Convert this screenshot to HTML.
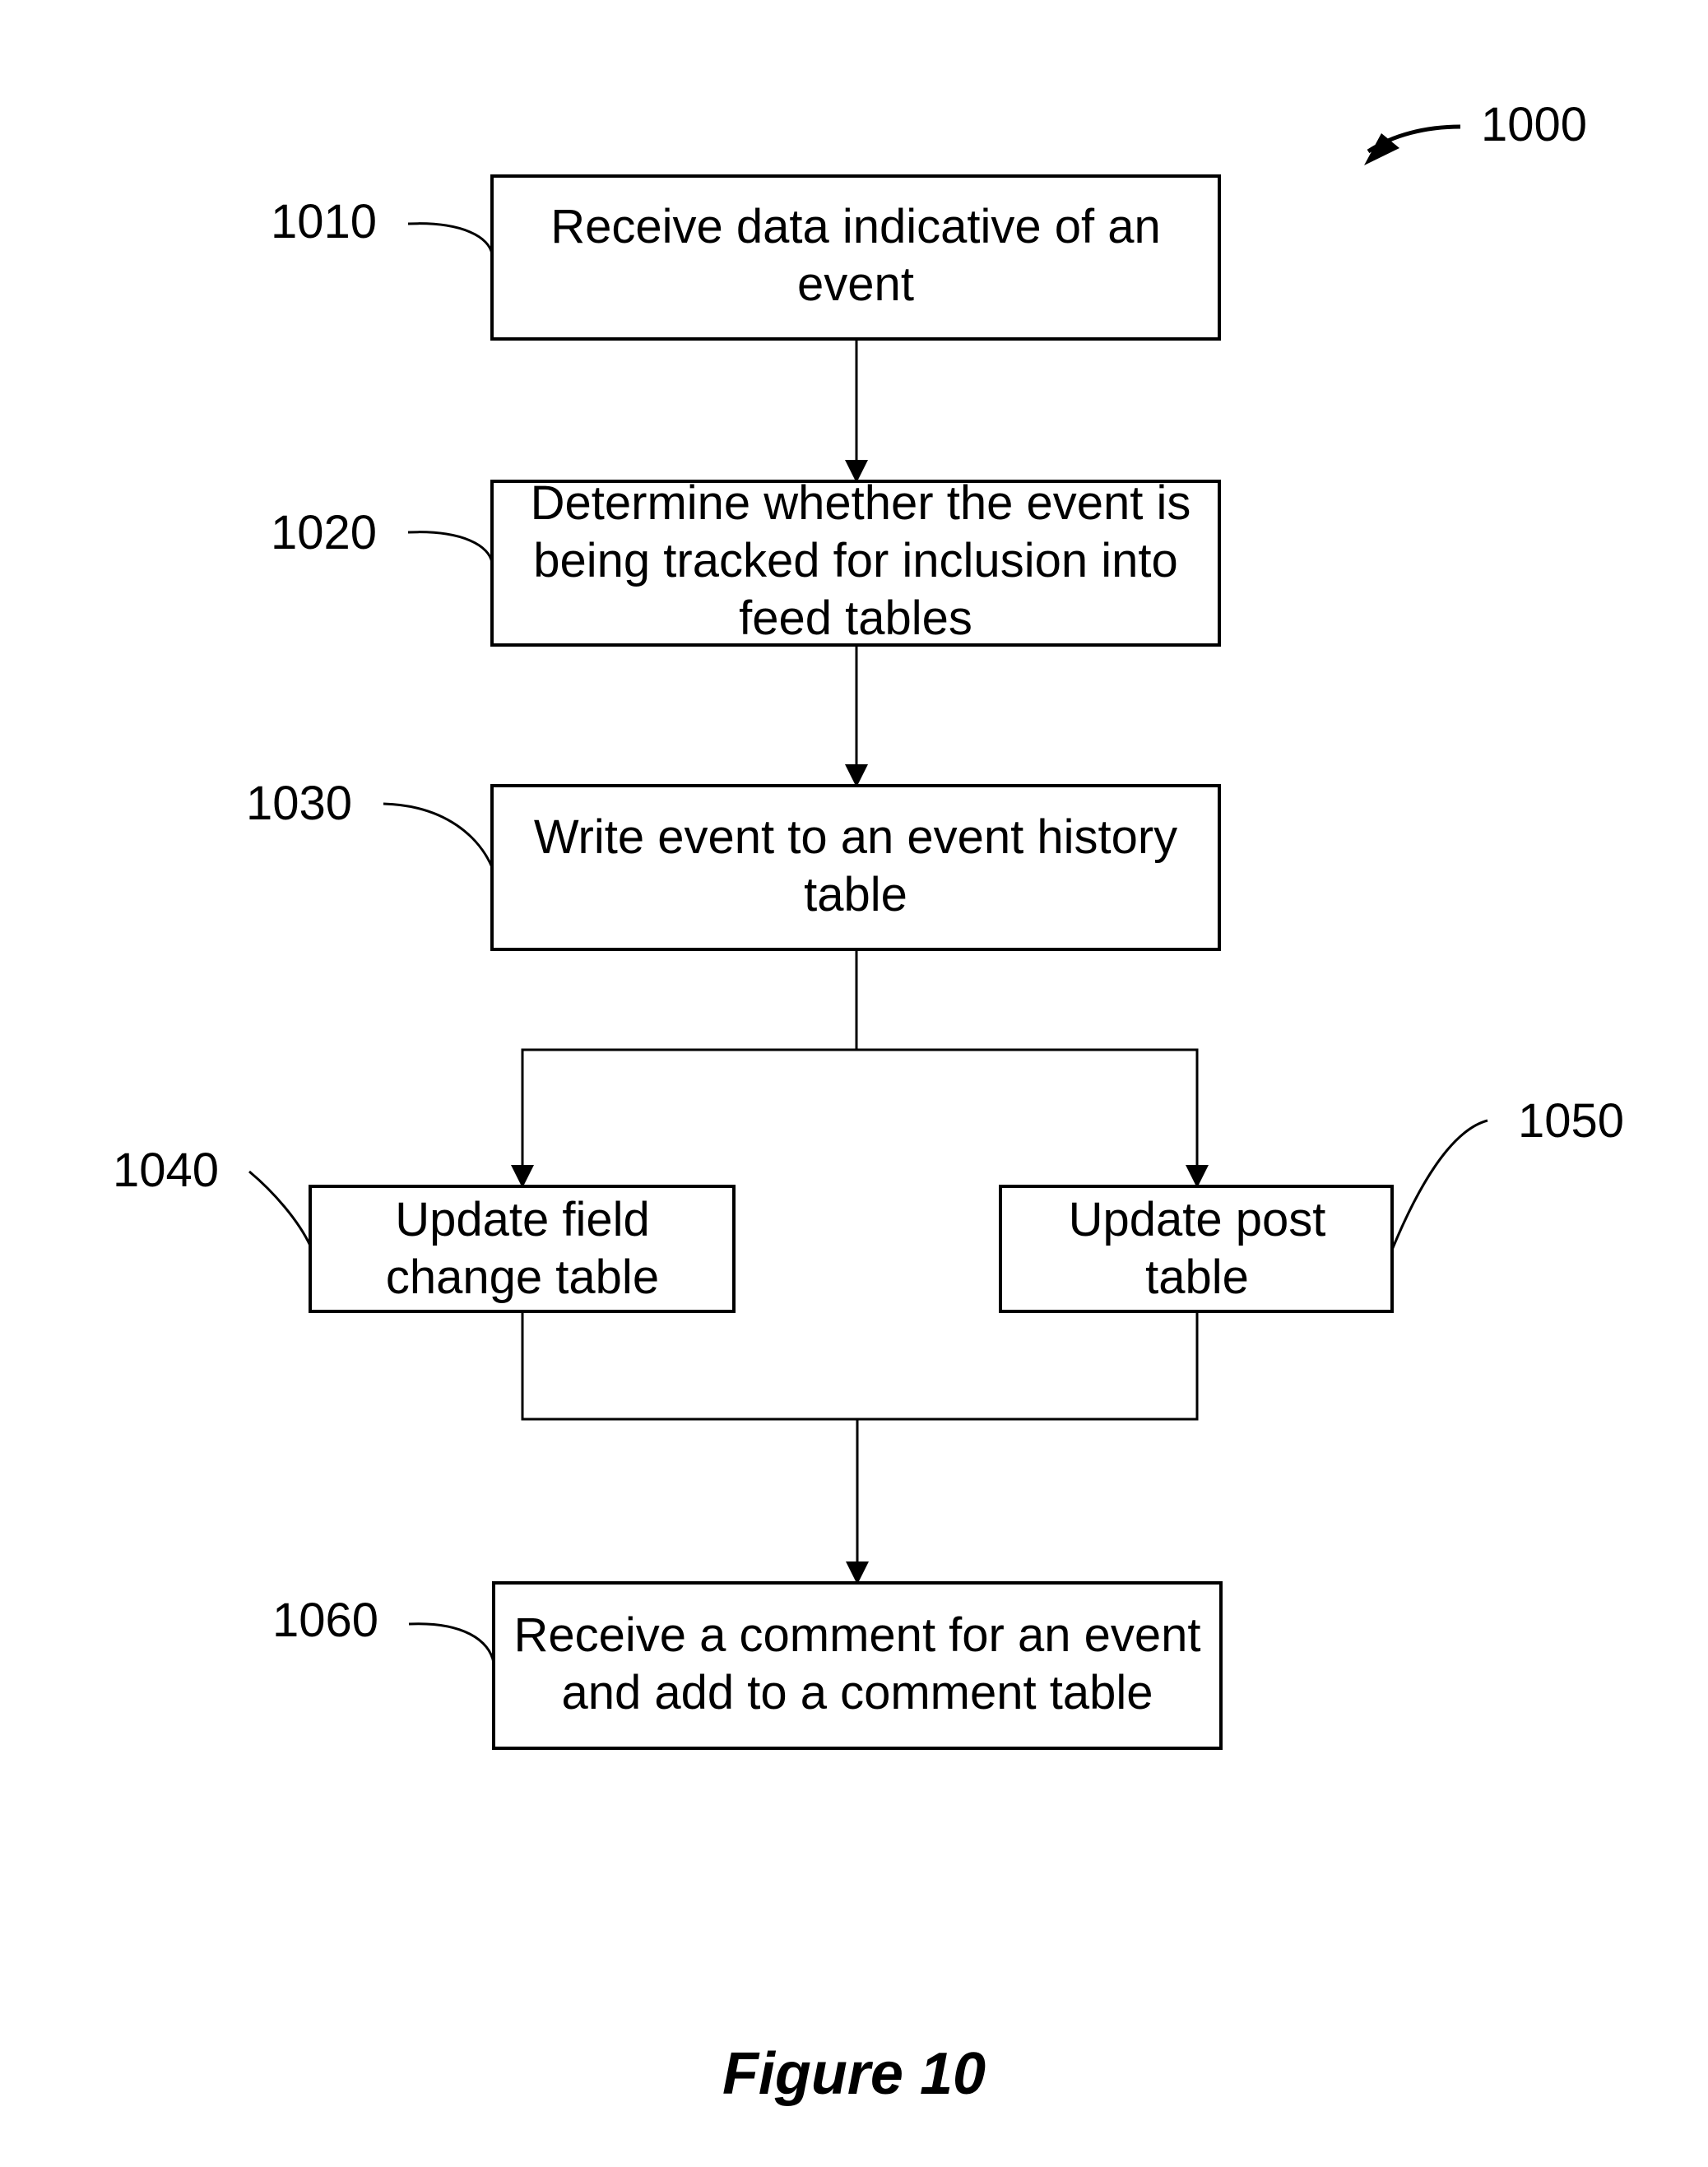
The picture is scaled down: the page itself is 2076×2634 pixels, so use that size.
<!DOCTYPE html>
<html><head><meta charset="utf-8"><style>
html,body{margin:0;padding:0;background:#fff}
svg{display:block}
text{font-family:"Liberation Sans",Arial,sans-serif;font-size:58px;fill:#000}
</style></head><body>
<svg width="2076" height="2634" viewBox="0 0 2076 2634" xmlns="http://www.w3.org/2000/svg">
<defs>
<marker id="b" markerWidth="28" markerHeight="28" refX="26" refY="14" orient="auto" markerUnits="userSpaceOnUse" viewBox="0 0 28 28"><path d="M0,0 L28,14 L0,28z" fill="#000"/></marker></defs>
<g transform="translate(3,4)">
<g fill="none" stroke="#000" stroke-width="4">
<rect x="595" y="210" width="884" height="198"/>
<rect x="595" y="581" width="884" height="199"/>
<rect x="595" y="951" width="884" height="199"/>
<rect x="374" y="1438" width="515" height="152"/>
<rect x="1213" y="1438" width="476" height="152"/>
<rect x="597" y="1920" width="884" height="201"/>
</g>
<g stroke="#000" stroke-width="3" fill="none">
<line x1="1038" y1="408" x2="1038" y2="581" marker-end="url(#b)"/>
<line x1="1038" y1="780" x2="1038" y2="951" marker-end="url(#b)"/>
<polyline points="1038,1150 1038,1272 632,1272 632,1438" marker-end="url(#b)"/>
<polyline points="1038,1272 1452,1272 1452,1438" marker-end="url(#b)"/>
<polyline points="632,1590 632,1721 1452,1721 1452,1590"/>
<line x1="1039" y1="1721" x2="1039" y2="1920" marker-end="url(#b)"/>
<path d="M493,268 C560,265 592,285 595,305"/>
<path d="M493,643 C560,640 592,660 595,680"/>
<path d="M463,973 C540,975 580,1015 595,1050"/>
<path d="M300,1420 C330,1445 360,1480 374,1510"/>
<path d="M1805,1358 C1760,1370 1720,1440 1689,1515"/>
<path d="M494,1970 C560,1967 592,1990 597,2017"/>
<path d="M1772,150 C1730,150 1690,160 1660,180" stroke-width="5"/>
</g>
<path d="M1676,158 L1655,197 L1698,176z" fill="#000"/>
<g text-anchor="middle">
<text x="1037" y="291">Receive data indicative of an</text>
<text x="1037" y="361">event</text>
<text x="1043" y="627">Determine whether the event is</text>
<text x="1037" y="697">being tracked for inclusion into</text>
<text x="1037" y="767">feed tables</text>
<text x="1037" y="1033">Write event to an event history</text>
<text x="1037" y="1103">table</text>
<text x="632" y="1498">Update field</text>
<text x="632" y="1568">change table</text>
<text x="1452" y="1498">Update post</text>
<text x="1452" y="1568">table</text>
<text x="1039" y="2003">Receive a comment for an event</text>
<text x="1039" y="2073">and add to a comment table</text>
</g>
<text x="326" y="285">1010</text>
<text x="326" y="663">1020</text>
<text x="296" y="992">1030</text>
<text x="134" y="1438">1040</text>
<text x="1842" y="1378">1050</text>
<text x="328" y="1985">1060</text>
<text x="1797" y="167">1000</text>
<text x="1035" y="2541" text-anchor="middle" style="font-size:72px;font-weight:bold;font-style:italic">Figure 10</text>
</g>
</svg>
</body></html>
